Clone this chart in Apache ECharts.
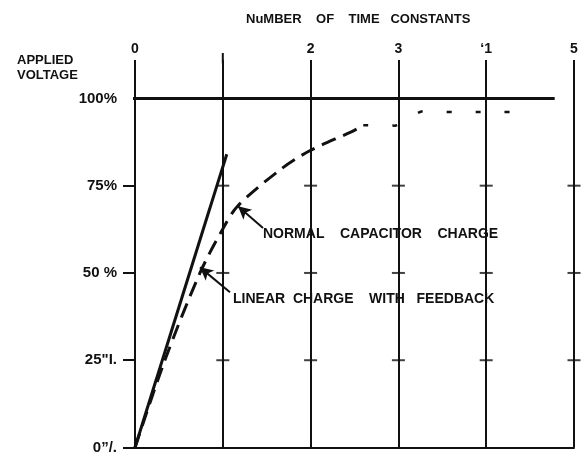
<!DOCTYPE html>
<html><head><meta charset="utf-8">
<script src="https://cdn.jsdelivr.net/npm/echarts@6/dist/echarts.min.js"></script>
<style>html,body{margin:0;padding:0;background:#fff}#c{width:581px;height:455px}</style>
</head><body><div id="c"></div>
<script>
// ---- data ----
const xTickValues = [0, 1, 2, 3, 4, 5];
const xTickLabels = ['0', '', '2', '3', '\u20181', '5'];
const yTickValues = [0, 25, 50, 75, 100];
const yTickLabels = ['0\u201d/.', '25"I.', '50 %', '75%', '100%'];
// linear charge with feedback (solid)
const linearX = [0, 1.045];
const linearY = [0, 84];
// normal capacitor charge (dashed)
const normalX = [0, 0.34, 0.74, 1.0, 1.17, 1.65, 1.99, 2.47, 2.6];
const normalY = [0, 25, 50, 62.6, 69.2, 79.5, 85, 90.5, 92.3];
// sparse broken tail of dashed curve
const tailX = [2.6, 2.96, 3.28, 3.62, 3.97, 4.53];
const tailY = [92.3, 92.2, 96.3, 96.1, 96.1, 96.1];
// 100% reference line extent
const fullX = [-0.11, 4.78];
const fullY = [100, 100];
// upward extension of the "1" line
const oneLineX = [1, 1];
const oneLineY = [110, 113];
// cross ticks on vertical lines
const crossX = [1, 2, 3, 4, 5];
const crossY = [25, 50, 75];
// annotation arrows [from, to]
const normalArrow = [[1.458, 62.9], [1.173, 69.1]];
const linearArrow = [[1.082, 44.5], [0.74, 51.6]];
const normalText = 'NORMAL    CAPACITOR    CHARGE';
const linearText = 'LINEAR  CHARGE    WITH   FEEDBACK';
const titleText = 'NuMBER    OF    TIME   CONSTANTS';
const yTitleText = 'APPLIED\nVOLTAGE';

const FONT = '"Liberation Sans", Arial, sans-serif';
const INK = '#111';

const crossData = [];
crossX.forEach(x => crossY.forEach(y => crossData.push([x, y])));

const chart = echarts.init(document.getElementById('c'), null, {renderer: 'canvas'});
chart.setOption({
  animation: false,
  backgroundColor: '#fff',
  title: {
    text: titleText, left: 241, top: 8,
    textStyle: {fontFamily: FONT, fontWeight: 'bold', fontSize: 13, color: INK}
  },
  grid: {left: 135, right: 7, top: 60, bottom: 3},
  xAxis: [{
    type: 'value', position: 'top', min: 0, max: 5, interval: 1,
    axisLine: {show: false}, axisTick: {show: false},
    axisLabel: {
      margin: 4, fontFamily: FONT, fontWeight: 'bold', fontSize: 14, color: INK,
      formatter: v => { const i = xTickValues.indexOf(v); return i >= 0 ? xTickLabels[i] : ''; }
    },
    splitLine: {show: true, lineStyle: {color: INK, width: 2}}
  }, {
    type: 'value', position: 'bottom', min: 0, max: 5, interval: 1,
    axisLine: {show: true, onZero: false, lineStyle: {color: INK, width: 2}},
    axisTick: {show: false}, axisLabel: {show: false}, splitLine: {show: false}
  }],
  yAxis: {
    type: 'value', min: 0, max: 111,
    axisLine: {show: false},
    axisTick: {show: true, length: 12, customValues: [0, 25, 50, 75], lineStyle: {color: INK, width: 2}},
    axisLabel: {
      margin: 18, fontFamily: FONT, fontWeight: 'bold', fontSize: 15, color: INK,
      customValues: yTickValues,
      formatter: v => { const i = yTickValues.indexOf(v); return i >= 0 ? yTickLabels[i] : ''; }
    },
    splitLine: {show: false}
  },
  graphic: [
    {type: 'text', left: 17, top: 53, style: {text: yTitleText, font: 'bold 13px ' + FONT, fill: INK, lineHeight: 15}},
    {type: 'text', left: 263, top: 227, style: {text: normalText, font: 'bold 14px ' + FONT, fill: INK}},
    {type: 'text', left: 233, top: 292, style: {text: linearText, font: 'bold 14px ' + FONT, fill: INK}}
  ],
  series: [
    {
      type: 'line', xAxisIndex: 0, clip: false, symbol: 'none',
      data: fullX.map((x, i) => [x, fullY[i]]),
      lineStyle: {color: INK, width: 3}
    },
    {
      type: 'line', xAxisIndex: 0, clip: false, symbol: 'none',
      data: oneLineX.map((x, i) => [x, oneLineY[i]]),
      lineStyle: {color: INK, width: 2}
    },
    {
      type: 'scatter', xAxisIndex: 0, clip: false, symbol: 'rect', symbolSize: [13, 2],
      data: crossData, itemStyle: {color: INK}
    },
    {
      type: 'line', xAxisIndex: 0, symbol: 'none',
      data: linearX.map((x, i) => [x, linearY[i]]),
      lineStyle: {color: INK, width: 3},
      markLine: {
        silent: true, symbol: ['none', 'arrow'], symbolSize: [10, 13],
        label: {show: false}, lineStyle: {color: INK, width: 2, type: 'solid'},
        data: [[{coord: linearArrow[0]}, {coord: linearArrow[1]}], [{coord: normalArrow[0]}, {coord: normalArrow[1]}]]
      }
    },
    {
      type: 'line', xAxisIndex: 0, symbol: 'none', smooth: 0.3,
      data: normalX.map((x, i) => [x, normalY[i]]),
      lineStyle: {color: INK, width: 3, type: [15, 8]}
    },
    {
      type: 'line', xAxisIndex: 0, symbol: 'none', smooth: 0.2,
      data: tailX.map((x, i) => [x, tailY[i]]),
      lineStyle: {color: INK, width: 2.5, type: [5, 24]}
    }
  ]
});
</script>
</body></html>
